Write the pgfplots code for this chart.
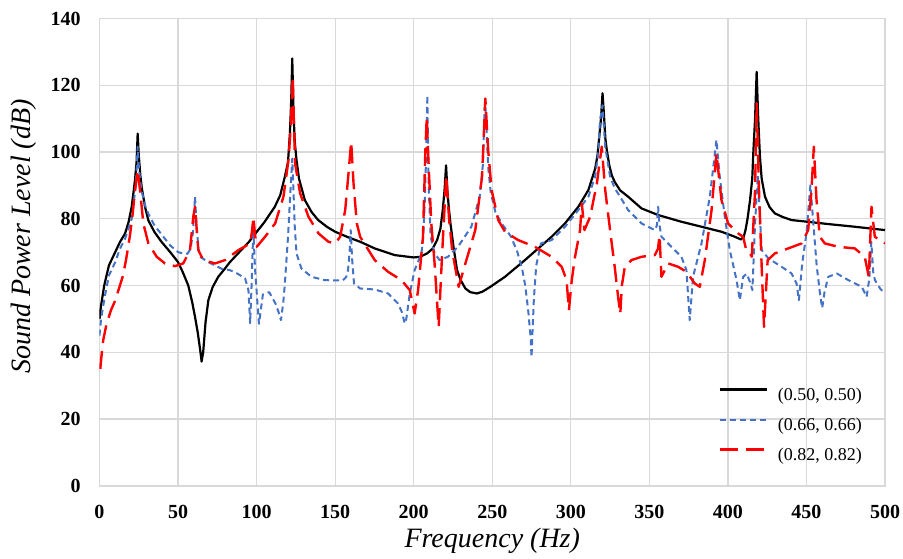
\documentclass[border=0pt]{standalone}
\usepackage{fontspec}
\setmainfont{Liberation Serif}
\usepackage{pgfplots}
\pgfplotsset{compat=1.18}
\definecolor{gridgray}{HTML}{D9D9D9}
\definecolor{exblue}{HTML}{4472C4}
\definecolor{exred}{HTML}{FF0000}
\begin{document}
\begin{tikzpicture}
\begin{axis}[
  name=ax,
  scale only axis,
  width=392.75pt, height=233.6pt,
  xmin=0, xmax=500, ymin=0, ymax=140,
  xtick={0,50,...,500}, ytick={0,20,...,140},
  grid=major,
  major grid style={draw=gridgray, line width=0.6pt},
  axis line style={draw=gridgray, line width=0.8pt},
  major tick length=0pt,
  tick style={draw=none},
  /pgf/number format/assume math mode=true,
  ticklabel style={font=\fontsize{10}{12}\selectfont\bfseries, inner sep=0pt},
  x tick label style={anchor=north, yshift=-9.5pt},
  y tick label style={anchor=east, xshift=-9.25pt},
  xlabel={Frequency (Hz)},
  ylabel={Sound Power Level (dB)},
  label style={font=\fontsize{14}{16}\selectfont\itshape},
  xlabel style={at={([yshift=-30.9pt]axis description cs:0.5,0)}, anchor=base},
  ylabel style={at={([xshift=-34.25pt]axis description cs:0,0.533)}, anchor=base, rotate=0},
  legend style={draw=none, fill=none, inner sep=0pt,
    at={(axis description cs:0.7874,0.128)}, anchor=west,
    font=\fontsize{9}{10}\selectfont, row sep=7.3pt, column sep=5pt,
    nodes={inner sep=0pt}},
  legend cell align=left,
  legend image code/.code={\draw[#1] (0pt,3.2pt) -- (23.5pt,3.2pt);},
  every axis plot/.append style={line join=round},
]
\addplot[black, line width=1.1pt] coordinates {
(0,50)(1,54)(3,60)(6,66)(10,70)(13,73)(16.3,75.6)(18.5,79)(20.5,83.6)(22.6,91.6)(23.6,97)(24.3,105.5)(25,99)(26,93)(27,89)(29,83.5)(31.1,79.5)(35,76)(39.6,73)(45,70)(50,67)(53,64)(56.5,60)(59,55)(60.8,50.6)(62.5,46)(64,41)(65,37.2)(66,40)(67.5,49)(69.3,55.6)(72,59.5)(75.6,62.6)(79.9,65.1)(83,67)(90,70.5)(95,73)(100,76)(105,79)(111.6,83.6)(115,87)(118,92.6)(120,97)(121.2,105.6)(122,115)(122.7,128)(123.5,112)(124.3,103)(125.4,97.6)(127,92)(130.7,85.6)(135,82)(139.2,79.6)(145,77.5)(150,76.1)(158,74.5)(165.9,73.1)(175.2,71.1)(187.9,69.1)(200,68.4)(204,68.6)(208.5,69.6)(212,71)(214.9,73.6)(217,77)(218.5,82.6)(219.7,89)(220.6,96)(221.5,88)(222.4,83)(223.4,78.6)(225.5,71)(227.6,64.6)(230,61.5)(232.9,59.1)(236,58)(240.3,57.6)(244,58.2)(248.8,59.6)(258.1,62.6)(270.8,67.6)(279.3,71.1)(287.8,74.6)(296.3,78.6)(304.8,83.6)(311.2,88.6)(315.5,95)(317,99)(318,104)(319.2,110)(320.2,117.6)(321,112)(322,104)(322.9,100.6)(324.5,96)(326.1,93)(328,91)(331.4,88.5)(336.5,86.6)(345,83.1)(355.6,81.1)(370.4,79.1)(383.2,77.6)(395.9,76.1)(404.4,74.6)(408.2,73.8)(410,74.5)(411.2,76.6)(412.5,80)(414.1,85.6)(415.5,92)(416.2,100)(417.3,110)(418.3,124)(419.3,110)(420.4,98.6)(421.5,92)(423.6,86.6)(426.5,83.5)(429.9,81.6)(435,80.5)(440.5,79.6)(450.5,79.1)(463.9,78.4)(480.8,77.6)(500,76.6)
};
\addlegendentry{(0.50, 0.50)}
\addplot[exblue, line width=1.0pt, dash pattern=on 3pt off 2pt] coordinates {
(0,45)(1,50)(3.5,57)(6,63)(10,67)(13,71)(16.3,74)(20.5,80)(22.6,88)(23.6,94)(24.3,101.6)(25,96)(26,91)(27,88)(29,84)(31.1,81.5)(35,78)(40,75)(45,72)(50,70)(53,69.6)(56,69.5)(58,71)(59.5,76)(60.8,86.6)(61.8,78)(63,71)(64,68.6)(69.3,67)(77.8,65)(83,64.6)(88,63.5)(92.7,62.1)(94.8,58.6)(95.9,48.7)(96.8,60)(97.9,77)(99,65)(100.5,55)(101.5,48.5)(102.5,52)(104,57.3)(108,58)(112,54.6)(114,52)(115.5,49.6)(117,55)(118,60.6)(120,74.6)(121.5,88)(122.7,98)(123.5,88)(124.3,77.6)(125.4,69.6)(128.5,65.1)(134.9,62.6)(143.4,61.6)(150,61.5)(155,61.6)(157,62.5)(158.2,64.6)(159.2,70)(159.9,76.6)(160.8,68)(162,60.6)(165.9,59.1)(175.2,58.8)(183.7,57.6)(190,54.6)(192.5,52)(194.3,48.6)(195.3,50)(197.5,57.6)(200.6,64.6)(204.9,69.6)(206,74)(207,84.6)(208,100)(208.7,117)(209.5,90)(210.8,74.6)(213.3,69.6)(216.5,67.6)(221.8,68.6)(228.2,71.6)(236.7,77.6)(242,86.6)(244,96)(245.4,116)(246.5,105)(247.5,95)(249,88)(252,82)(256,78.6)(262,74.6)(266,70)(269,65)(271,60)(273,52)(274.5,44)(275,38.5)(275.6,46)(276.5,56)(278,66)(281,72.6)(287.8,73.6)(296.3,77.6)(304.8,82.6)(311.2,86.6)(315.5,92.6)(317.5,100)(318.6,109.6)(320.2,114)(321,108)(321.9,101.6)(325,92.6)(328,89.1)(331.4,86.6)(336.5,82.6)(345,78.6)(353.5,76.6)(354.8,78)(355.6,83.6)(356.5,78)(357.7,74.6)(364,71.6)(370.4,68.6)(373.6,64.6)(375.7,49.6)(377.8,62.6)(383.2,72.6)(388.5,86.6)(392.7,103.6)(394.8,92.6)(398,80.6)(401.2,70.6)(405.5,61.6)(407.6,55.6)(409.7,62.6)(412,63.5)(414.1,61)(415.6,58.6)(417.3,78.6)(419,93)(420.4,80.6)(421.5,70.6)(425.8,68.1)(434.2,65.6)(440.5,63.6)(443.7,60.6)(445.2,55.6)(447.3,66.6)(450,75.6)(452.5,90)(454.5,78)(456.5,66)(458.5,58)(460,53.2)(461.5,58)(463.9,62.6)(469.3,63.6)(476.7,61.6)(485.2,59.6)(488.3,56.6)(490,62)(491.3,73)(492.5,64)(493.6,61.6)(497,59)(500,57.6)
};
\addlegendentry{(0.66, 0.66)}
\addplot[exred, line width=1.2pt, dash pattern=on 9pt off 4pt] coordinates {
(0.5,35)(1.5,40)(2.4,43.7)(4.5,48.5)(7.3,52.6)(10,55.5)(13,60)(15,63)(17,68)(19.4,75)(21,81)(22.5,88)(24.3,94.6)(25.8,88.6)(27.9,78.6)(31.1,72.6)(36.4,68.6)(41.7,66.6)(48,65.8)(53.3,66.6)(57.6,70.6)(59.7,80.6)(60.8,83.6)(62,76)(62.9,70.6)(66.1,67.6)(73.5,66.6)(79.9,67.6)(88.4,70.6)(95.9,72.6)(97,76)(98,80.6)(99,75)(100.1,71.6)(105.4,74.6)(111.8,78.6)(117.1,86.6)(120.3,97.6)(121.8,108)(123,122.6)(123.8,108)(124.5,96.6)(127.7,87.6)(133,80.6)(139.4,75.6)(145.7,73.1)(150,72.6)(153.2,74.6)(156.4,82.6)(158.5,93.6)(160.2,103.1)(161.7,90.6)(163.8,78.6)(165.9,74.6)(175.2,67.6)(183.7,64.1)(192.2,61.6)(197.5,58.6)(200.6,51.6)(202.8,58.6)(205.9,74.6)(207.4,100)(208.3,110.5)(209.5,96)(211.2,78.6)(213.3,66.6)(215.9,47.6)(218,68.6)(220.7,93)(222.5,80)(224.5,70.6)(228.6,59.6)(232.9,66.6)(239.2,76.6)(243.5,92.6)(245.6,116)(247.5,100)(249.6,88.6)(253.8,79.6)(258.1,76.1)(266.5,73.6)(277.1,71.6)(287.8,68.6)(294.2,65.6)(297.3,61.6)(298.8,52.6)(300.6,61.6)(302.7,68.6)(305.9,76.6)(307,84.6)(308.7,76.6)(312.3,80.6)(316.6,90.6)(319.7,101.6)(321.9,88.6)(325,76.6)(328.2,64.6)(330,57)(331.5,51.5)(332.5,60)(334.4,65.6)(338.6,67.6)(345,68.6)(353.5,69.1)(355.5,71)(356.5,75)(357.7,62.6)(362,66.6)(368.3,65.6)(373.6,64.1)(378.9,60.6)(382.1,59.6)(385.3,67.6)(389.6,82.6)(392.7,99.6)(395.9,85.6)(400.1,78.6)(406.5,75.6)(409.7,74.6)(411.5,71)(413,70.6)(415.2,68.6)(417.3,88.6)(418.3,114.6)(419.8,88.6)(421.5,65.6)(423,47.6)(425.3,67.6)(429.9,69.6)(438.4,71.1)(446.9,72.6)(451.1,76.6)(453.2,88.6)(454.7,101.6)(456.4,85.6)(458.5,74.6)(461.7,72.6)(470.2,71.6)(480.8,71.1)(487.1,68.6)(489.7,62.6)(491.4,83.6)(493.5,74.6)(500,72.6)
};
\addlegendentry{(0.82, 0.82)}
\end{axis}
\pgfresetboundingbox
\path ([xshift=-49.75pt,yshift=-36.15pt]ax.south west) rectangle ([xshift=9pt,yshift=9.25pt]ax.north east);
\end{tikzpicture}
\end{document}
